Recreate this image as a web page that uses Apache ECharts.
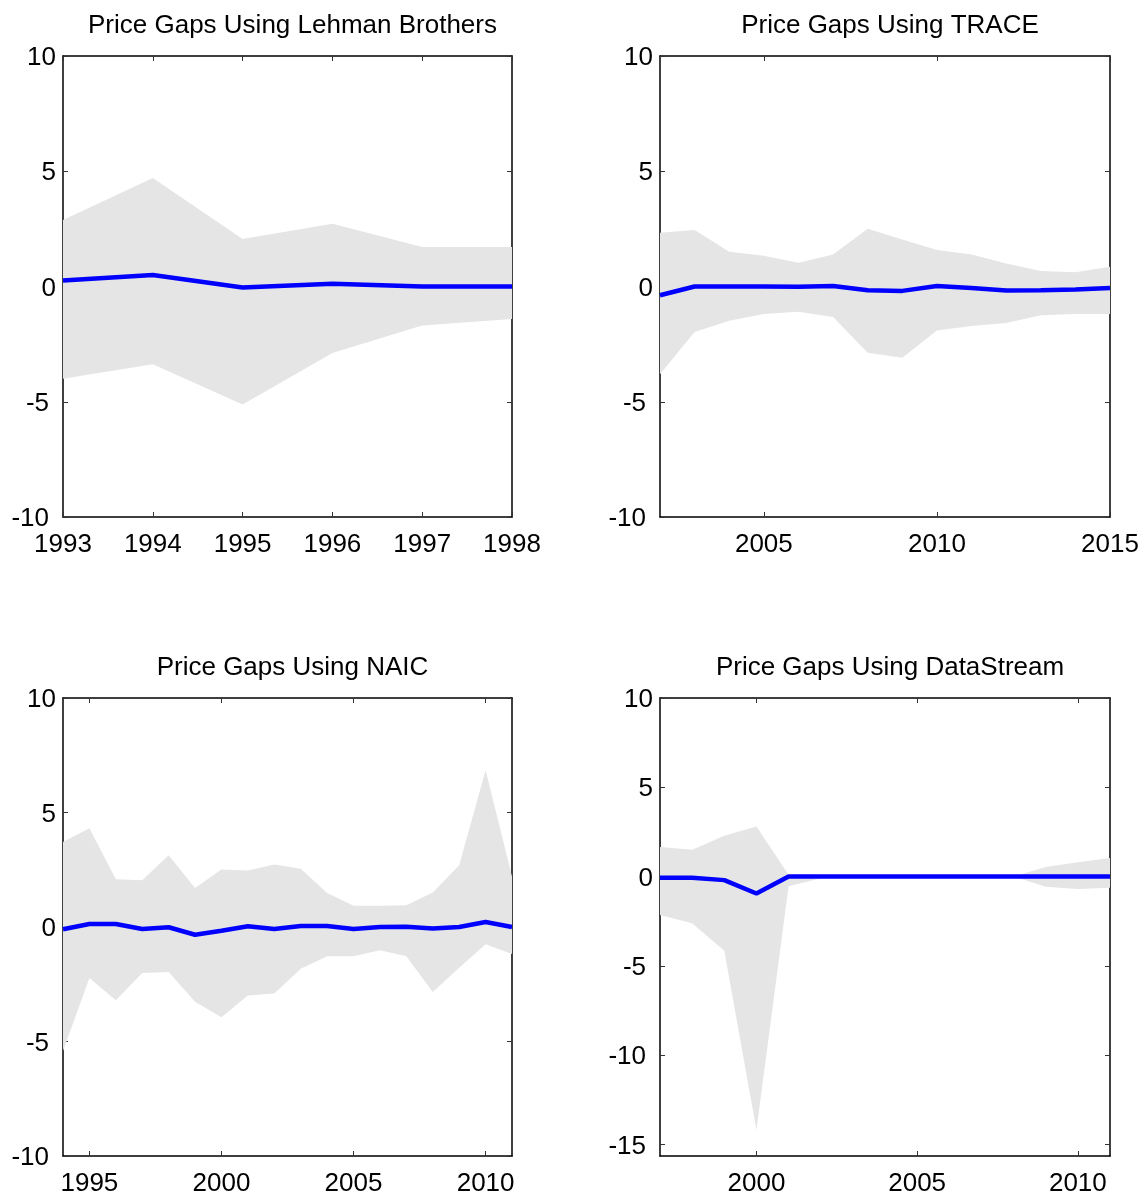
<!DOCTYPE html>
<html>
<head>
<meta charset="utf-8">
<script src="https://cdn.jsdelivr.net/npm/echarts@6/dist/echarts.min.js"></script>
<style>
html,body{margin:0;padding:0;background:#fff;}
#c{width:1146px;height:1197px;}
</style>
</head>
<body>
<div id="c"></div>
<script>
// ---- Data ----
const titles = ['Price Gaps Using Lehman Brothers', 'Price Gaps Using TRACE', 'Price Gaps Using NAIC', 'Price Gaps Using DataStream'];

const years1 = [1993, 1994, 1995, 1996, 1997, 1998];
const mean1  = [0.26, 0.50, -0.04, 0.12, 0.0, 0.0];
const lower1 = [-4.00, -3.37, -5.12, -2.88, -1.69, -1.41];
const upper1 = [2.88, 4.71, 2.06, 2.72, 1.71, 1.71];

const years2 = [2002, 2003, 2004, 2005, 2006, 2007, 2008, 2009, 2010, 2011, 2012, 2013, 2014, 2015];
const mean2  = [-0.38, 0.0, 0.0, 0.0, -0.01, 0.02, -0.16, -0.19, 0.02, -0.07, -0.17, -0.16, -0.13, -0.07];
const lower2 = [-3.81, -1.97, -1.49, -1.19, -1.10, -1.32, -2.87, -3.09, -1.91, -1.71, -1.58, -1.25, -1.19, -1.19];
const upper2 = [2.33, 2.45, 1.51, 1.33, 1.03, 1.39, 2.51, 2.04, 1.58, 1.39, 1.00, 0.67, 0.62, 0.86];

const years3 = [1994, 1995, 1996, 1997, 1998, 1999, 2000, 2001, 2002, 2003, 2004, 2005, 2006, 2007, 2008, 2009, 2010, 2011];
const mean3  = [-0.10, 0.13, 0.13, -0.09, -0.01, -0.34, -0.16, 0.03, -0.09, 0.04, 0.04, -0.09, 0.0, 0.01, -0.07, 0.0, 0.22, 0.0];
const lower3 = [-5.42, -2.23, -3.20, -2.01, -1.97, -3.26, -3.94, -2.99, -2.90, -1.82, -1.28, -1.28, -1.01, -1.28, -2.84, -1.78, -0.75, -1.18];
const upper3 = [3.71, 4.31, 2.08, 2.04, 3.13, 1.70, 2.51, 2.47, 2.73, 2.54, 1.49, 0.93, 0.93, 0.95, 1.51, 2.70, 6.84, 2.20];

const years4 = [1997, 1998, 1999, 2000, 2001, 2002, 2003, 2004, 2005, 2006, 2007, 2008, 2009, 2010, 2011];
const mean4  = [-0.07, -0.07, -0.20, -0.95, 0.0, 0.0, 0.0, 0.0, 0.0, 0.0, 0.0, 0.0, 0.0, 0.0, 0.0];
const lower4 = [-2.15, -2.61, -4.15, -14.20, -0.54, -0.10, 0.0, 0.0, 0.0, 0.0, 0.0, 0.0, -0.57, -0.69, -0.63];
const upper4 = [1.65, 1.50, 2.28, 2.80, 0.10, 0.05, 0.0, 0.0, 0.0, 0.0, 0.0, 0.0, 0.54, 0.80, 1.04];

const xTicks1 = [1993, 1994, 1995, 1996, 1997, 1998];
const xTicks2 = [2005, 2010, 2015];
const xTicks3 = [1995, 2000, 2005, 2010];
const xTicks4 = [2000, 2005, 2010];
const yTicksA = [-10, -5, 0, 5, 10];
const yTicksB = [-15, -10, -5, 0, 5, 10];

// ---- Layout ----
const panels = [
  {years: years1, mean: mean1, lower: lower1, upper: upper1, xt: xTicks1, yt: yTicksA, xmin: 1993, xmax: 1998, ymin: -10, ymax: 10,
   grid: {left: 63, top: 56, width: 449, height: 461}},
  {years: years2, mean: mean2, lower: lower2, upper: upper2, xt: xTicks2, yt: yTicksA, xmin: 2002, xmax: 2015, ymin: -10, ymax: 10,
   grid: {left: 660, top: 56, width: 450, height: 461}},
  {years: years3, mean: mean3, lower: lower3, upper: upper3, xt: xTicks3, yt: yTicksA, xmin: 1994, xmax: 2011, ymin: -10, ymax: 10,
   grid: {left: 63, top: 698, width: 449, height: 463}},
  {years: years4, mean: mean4, lower: lower4, upper: upper4, xt: xTicks4, yt: yTicksB, xmin: 1997, xmax: 2011, ymin: -15.65, ymax: 10,
   grid: {left: 660, top: 698, width: 450, height: 463}}
];

const FONT = '"Liberation Sans", Arial, sans-serif';
const lineCol = '#000';
const grids = [], xAxes = [], yAxes = [], series = [], graphics = [];
const labelRich = {
  p: {fontSize: 26, fontFamily: FONT, color: '#000', padding: [4, 0, 0, 0]},
  n: {fontSize: 26, fontFamily: FONT, color: '#000', padding: [4, 7, 0, 0]}
};

panels.forEach((p, i) => {
  grids.push(Object.assign({containLabel: false}, p.grid));
  const common = {
    type: 'value', gridIndex: i, splitLine: {show: false},
    axisLine: {show: true, onZero: false, lineStyle: {color: lineCol, width: 1.5}},
  };
  const tick = {show: true, inside: true, length: 5, customValues: p.xt, lineStyle: {color: '#333', width: 1}};
  const ytick = {show: true, inside: true, length: 5, customValues: p.yt, lineStyle: {color: '#333', width: 1}};
  xAxes.push(Object.assign({}, common, {
    position: 'bottom', min: p.xmin, max: p.xmax, axisTick: tick,
    axisLabel: {show: true, customValues: p.xt, margin: 15, color: '#000', fontSize: 26, fontFamily: FONT,
      formatter: v => String(Math.round(v))}
  }));
  xAxes.push(Object.assign({}, common, {
    position: 'top', min: p.xmin, max: p.xmax, axisTick: tick, axisLabel: {show: false}
  }));
  yAxes.push(Object.assign({}, common, {
    position: 'left', min: p.ymin, max: p.ymax, axisTick: ytick,
    axisLabel: {show: true, customValues: p.yt, margin: 7, color: '#000', fontSize: 26, fontFamily: FONT,
      formatter: v => { const r = Math.round(v); return (r < 0 ? '{n|' : '{p|') + r + '}'; },
      rich: labelRich}
  }));
  yAxes.push(Object.assign({}, common, {
    position: 'right', min: p.ymin, max: p.ymax, axisTick: ytick, axisLabel: {show: false}
  }));
  const xi = 2 * i, yi = 2 * i;
  // confidence band as one polygon through the axes' scales
  series.push({
    type: 'custom', xAxisIndex: xi, yAxisIndex: yi, silent: true, z: 1,
    data: p.years.map((y, k) => [y, p.lower[k], p.upper[k]]),
    renderItem: (params, api) => {
      if (params.dataIndex !== 0) return null;
      const pts = [];
      for (let k = 0; k < p.years.length; k++) pts.push(api.coord([p.years[k], p.upper[k]]));
      for (let k = p.years.length - 1; k >= 0; k--) pts.push(api.coord([p.years[k], p.lower[k]]));
      return {type: 'polygon', shape: {points: pts}, style: {fill: '#e5e5e5', stroke: null}};
    }
  });
  series.push({
    type: 'line', xAxisIndex: xi, yAxisIndex: yi, symbol: 'none', z: 3,
    lineStyle: {color: '#0000ff', width: 4.5},
    data: p.years.map((y, k) => [y, p.mean[k]])
  });
  graphics.push({
    type: 'text', x: p.grid.left + p.grid.width / 2 + 5, y: p.grid.top - 30,
    style: {text: titles[i], fill: '#000', font: '26px ' + FONT, textAlign: 'center', textVerticalAlign: 'middle'}
  });
});

const chart = echarts.init(document.getElementById('c'), null, {renderer: 'canvas'});
chart.setOption({
  animation: false,
  backgroundColor: '#fff',
  grid: grids,
  xAxis: xAxes,
  yAxis: yAxes,
  series: series,
  graphic: graphics
});
</script>
</body>
</html>
